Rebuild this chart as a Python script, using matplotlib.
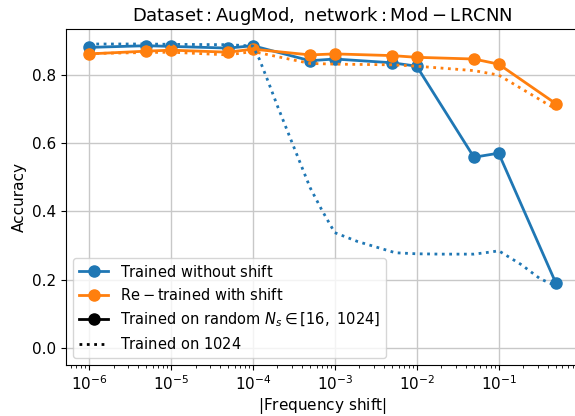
import matplotlib
matplotlib.use("Agg")
import matplotlib.pyplot as plt
import numpy as np

# frequency shifts used for the marked (solid) curves
shifts = [1e-6, 5e-6, 1e-5, 5e-5, 1e-4, 5e-4, 1e-3, 5e-3, 1e-2, 5e-2, 1e-1, 5e-1]
acc_no_shift = [0.881, 0.886, 0.884, 0.879, 0.886, 0.842, 0.847, 0.836, 0.826, 0.559, 0.571, 0.19]
acc_retrained = [0.862, 0.870, 0.873, 0.867, 0.876, 0.859, 0.862, 0.857, 0.852, 0.847, 0.832, 0.716]

# dotted curves (trained on 1024)
shifts_1024_blue = [1e-6, 5e-6, 1e-5, 5e-5, 1e-4, 1.2e-4, 1.55e-4, 2e-4, 3e-4, 5e-4,
                    7e-4, 1e-3, 1.9e-3, 5.5e-3, 1e-2, 2e-2, 5e-2, 8.5e-2, 1e-1, 1.9e-1, 3.2e-1, 5e-1]
acc_1024_blue = [0.891, 0.891, 0.890, 0.889, 0.885, 0.847, 0.779, 0.709, 0.603, 0.47,
                 0.403, 0.338, 0.312, 0.279, 0.276, 0.275, 0.275, 0.282, 0.285, 0.244, 0.203, 0.182]
acc_1024_orange = [0.863, 0.866, 0.867, 0.859, 0.869, 0.834, 0.832, 0.830, 0.826, 0.813, 0.800, 0.700]

xticks = [1e-6, 1e-5, 1e-4, 1e-3, 1e-2, 1e-1]

blue = "#1f77b4"
orange = "#ff7f0e"

fig = plt.figure(figsize=(5.75, 4.16), dpi=100)
ax = fig.add_axes([0.1148, 0.1226, 0.892, 0.8077])

ax.plot(shifts, acc_no_shift, "-o", color=blue, lw=2, ms=8)
ax.plot(shifts, acc_retrained, "-o", color=orange, lw=2, ms=8)
ax.plot(shifts_1024_blue, acc_1024_blue, ":", color=blue, lw=2)
ax.plot(shifts, acc_1024_orange, ":", color=orange, lw=2)

# legend proxies
h1, = ax.plot([], [], "-o", color=blue, lw=2, ms=8)
h2, = ax.plot([], [], "-o", color=orange, lw=2, ms=8)
h3, = ax.plot([], [], "-o", color="black", lw=2, ms=8)
h4, = ax.plot([], [], ":", color="black", lw=2)
ax.legend([h1, h2, h3, h4],
          [r"$\mathrm{Trained\ without\ shift}$",
           r"$\mathrm{Re-trained\ with\ shift}$",
           r"$\mathrm{Trained\ on\ random}\ N_s \in [16,\ 1024]$",
           r"$\mathrm{Trained\ on\ 1024}$"],
          loc="lower left", fontsize=10.5, framealpha=0.8)

ax.set_xscale("log")
ax.set_xticks(xticks)
ax.set_xlim(10 ** -6.28, 10 ** -0.02)
ax.set_ylim(-0.05, 0.935)
ax.set_yticks([0.0, 0.2, 0.4, 0.6, 0.8])
ax.grid(True, which="major", color="#c8c8c8", lw=1)
ax.tick_params(labelsize=11)
ax.set_xlabel(r"$|\mathrm{Frequency\ shift}|$", fontsize=11, labelpad=2)
ax.set_ylabel("Accuracy", fontsize=11)
ax.set_title(r"$\mathrm{Dataset: AugMod,\ network: Mod-LRCNN}$", fontsize=13)

fig.savefig("out.png", dpi=100)
